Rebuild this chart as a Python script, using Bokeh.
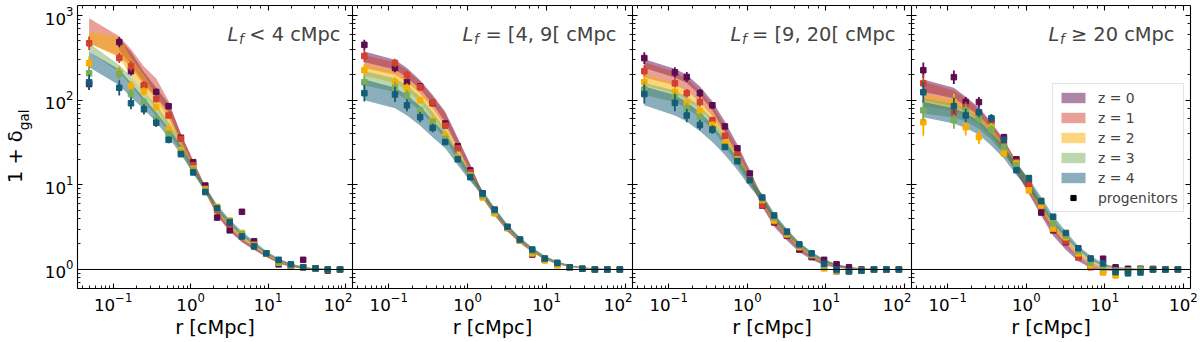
import math
from bokeh.plotting import figure
from bokeh.models import (LogAxis, Label, Legend, LegendItem, ColumnDataSource, Span,
                          Range1d, CustomJSTickFormatter, LogScale)
from bokeh.layouts import row
from bokeh.embed import file_html
from bokeh.resources import INLINE

# ---------------- data ----------------
R = [0.049, 0.12, 0.17, 0.25, 0.36, 0.52, 0.75, 1.08, 1.55, 2.2,
     3.2, 4.6, 6.6, 9.5, 13.7, 19.7, 28.4, 41, 59, 85]

Z_LABELS = ["z = 0", "z = 1", "z = 2", "z = 3", "z = 4"]
Z_COLORS = ["#5c0c4f", "#d2412f", "#f7ae00", "#79ad5d", "#155d77"]
PANEL_REL = ["<", "=", "=", "\u2265"]
PANEL_RNG = ["4", "[4, 9[", "[9, 20[", "20"]

# ---- panel 1 : L_f < 4 cMpc ----
P1_Z0_PTS = [155, 485, 220, 148, 125, 85, 36, 18.5, 9.8, 4.1, 2.9, 4.8, 2.15, 1.55, 1.15, 1.08, 1.3, 1.03, 0.97, 1.0]
P1_Z1_PTS = [470, 315, 252, 150, 103, 66, 35, 17, 9.0, 5.0, 3.4, 2.5, 1.95, 1.55, 1.2, 1.1, 1.06, 1.03, 1.0, 1.0]
P1_Z2_PTS = [273, 215, 147, 127, 83, 45, 25.6, 15.5, 8.8, 5.5, 3.8, 2.7, 1.95, 1.55, 1.2, 1.12, 1.06, 1.02, 1.0, 1.0]
P1_Z3_PTS = [208, 205, 118, 95, 60, 40, 24, 15, 8.5, 5.2, 3.7, 2.6, 1.9, 1.55, 1.22, 1.12, 1.06, 1.03, 1.0, 1.0]
P1_Z4_PTS = [163, 140, 92, 78, 54, 34, 23, 14, 8.2, 5.3, 3.6, 2.45, 1.87, 1.55, 1.3, 1.15, 1.06, 1.03, 1.0, 1.0]
P1_Z0_ERR = [0.07, 0.06, 0.05, 0.05, 0.04, 0.03, 0.02, 0.015, 0.01, 0, 0, 0, 0, 0, 0, 0, 0, 0, 0, 0]
P1_Z1_ERR = [0.08, 0.06, 0.06, 0.05, 0.04, 0.03, 0.02, 0.015, 0.01, 0, 0, 0, 0, 0, 0, 0, 0, 0, 0, 0]
P1_Z2_ERR = [0.08, 0.07, 0.06, 0.05, 0.04, 0.03, 0.02, 0.015, 0.01, 0, 0, 0, 0, 0, 0, 0, 0, 0, 0, 0]
P1_Z3_ERR = [0.08, 0.07, 0.06, 0.05, 0.045, 0.035, 0.02, 0.015, 0.01, 0, 0, 0, 0, 0, 0, 0, 0, 0, 0, 0]
P1_Z4_ERR = [0.09, 0.09, 0.07, 0.06, 0.05, 0.04, 0.025, 0.015, 0.01, 0, 0, 0, 0, 0, 0, 0, 0, 0, 0, 0]
P1_Z0_LO = [None, 380, 265, 160, 108, 72, 31, 16, 8.2, 4.3, 2.8, 2.1, 1.7, 1.4, 1.18, 1.07, 1.02, 1.0, 1.0, 1.0]
P1_Z0_HI = [None, 540, 370, 215, 140, 92, 40, 19, 9.5, 5.0, 3.2, 2.3, 1.85, 1.5, 1.25, 1.12, 1.05, 1.02, 1.01, 1.0]
P1_Z1_LO = [470, 330, 245, 150, 105, 62, 30, 15.5, 8.0, 4.4, 2.9, 2.15, 1.75, 1.42, 1.2, 1.08, 1.03, 1.01, 1.0, 1.0]
P1_Z1_HI = [930, 570, 400, 250, 180, 98, 40, 19.5, 9.6, 5.2, 3.3, 2.4, 1.9, 1.5, 1.26, 1.13, 1.06, 1.03, 1.01, 1.0]
P1_Z2_LO = [470, 320, 190, 125, 80, 47, 26, 14.5, 8.2, 4.6, 3.1, 2.25, 1.8, 1.45, 1.22, 1.1, 1.04, 1.01, 1.0, 1.0]
P1_Z2_HI = [640, 560, 320, 200, 115, 70, 34, 17.5, 9.4, 5.4, 3.5, 2.5, 1.95, 1.55, 1.3, 1.15, 1.07, 1.03, 1.01, 1.0]
P1_Z3_LO = [370, 215, 150, 95, 66, 42, 24, 14, 8.3, 4.9, 3.3, 2.4, 1.9, 1.5, 1.25, 1.1, 1.04, 1.01, 1.0, 1.0]
P1_Z3_HI = [470, 260, 190, 125, 87, 55, 32, 16.5, 9.4, 5.6, 3.7, 2.65, 2.05, 1.6, 1.32, 1.16, 1.07, 1.03, 1.01, 1.0]
P1_Z4_LO = [245, 150, 108, 78, 55, 36, 23, 13.5, 8.3, 5.0, 3.4, 2.5, 1.95, 1.52, 1.27, 1.12, 1.05, 1.01, 1.0, 1.0]
P1_Z4_HI = [370, 230, 160, 105, 72, 47, 29, 16.5, 9.6, 5.8, 3.9, 2.8, 2.15, 1.65, 1.35, 1.18, 1.08, 1.03, 1.01, 1.0]

# ---- panel 2 : L_f = [4, 9[ cMpc ----
P2_Z0_PTS = [450, 240, 163, 145, 92, 53, 28.5, 14.8, 7.9, 4.8, 3.1, 2.2, 1.5, 1.3, 1.15, 1.05, 1.02, 1.0, 1.0, 1.0]
P2_Z1_PTS = [332, 275, 198, 142, 94, 50, 27, 14, 7.7, 4.7, 3.1, 2.2, 1.55, 1.3, 1.15, 1.05, 1.02, 1.0, 1.0, 1.0]
P2_Z2_PTS = [226, 163, 140, 100, 58, 38, 21, 13, 7.1, 4.6, 3.1, 2.2, 1.55, 1.28, 1.12, 1.05, 1.02, 1.0, 1.0, 1.0]
P2_Z3_PTS = [163, 140, 115, 76, 55, 35, 20.5, 12.8, 7.5, 4.9, 3.15, 2.25, 1.65, 1.33, 1.18, 1.06, 1.02, 1.0, 1.0, 1.0]
P2_Z4_PTS = [121, 117, 87, 63, 47, 32, 20, 12.3, 7.9, 5.1, 3.2, 2.26, 1.72, 1.35, 1.2, 1.06, 1.02, 1.0, 1.0, 1.0]
P2_Z0_ERR = [0.06, 0.05, 0.05, 0.04, 0.03, 0.03, 0.02, 0.01, 0, 0, 0, 0, 0, 0, 0, 0, 0, 0, 0, 0]
P2_Z1_ERR = [0.07, 0.05, 0.05, 0.04, 0.03, 0.03, 0.02, 0.01, 0, 0, 0, 0, 0, 0, 0, 0, 0, 0, 0, 0]
P2_Z2_ERR = [0.07, 0.06, 0.05, 0.04, 0.04, 0.03, 0.02, 0.01, 0, 0, 0, 0, 0, 0, 0, 0, 0, 0, 0, 0]
P2_Z3_ERR = [0.08, 0.07, 0.06, 0.05, 0.04, 0.03, 0.02, 0.01, 0, 0, 0, 0, 0, 0, 0, 0, 0, 0, 0, 0]
P2_Z4_ERR = [0.1, 0.09, 0.07, 0.06, 0.05, 0.03, 0.02, 0.01, 0, 0, 0, 0, 0, 0, 0, 0, 0, 0, 0, 0]
P2_Z0_LO = [280, 230, 185, 135, 90, 55, 28, 14, 6.9, 4.3, 2.8, 2.05, 1.6, 1.3, 1.15, 1.07, 1.03, 1.01, 1.0, 1.0]
P2_Z0_HI = [375, 300, 240, 172, 115, 73, 36, 17.5, 8.0, 4.9, 3.1, 2.2, 1.7, 1.38, 1.2, 1.1, 1.05, 1.02, 1.01, 1.0]
P2_Z1_LO = [240, 200, 165, 120, 80, 50, 26, 13.5, 7.0, 4.4, 2.85, 2.08, 1.62, 1.32, 1.16, 1.08, 1.035, 1.01, 1.0, 1.0]
P2_Z1_HI = [340, 280, 225, 165, 110, 70, 34, 17, 8.1, 5.0, 3.2, 2.25, 1.72, 1.4, 1.21, 1.11, 1.05, 1.02, 1.01, 1.0]
P2_Z2_LO = [195, 160, 130, 95, 62, 40, 21, 12, 7.1, 4.5, 2.9, 2.12, 1.64, 1.33, 1.17, 1.08, 1.04, 1.015, 1.0, 1.0]
P2_Z2_HI = [270, 220, 180, 130, 85, 52, 27, 15, 8.2, 5.1, 3.25, 2.3, 1.75, 1.42, 1.22, 1.11, 1.055, 1.02, 1.01, 1.0]
P2_Z3_LO = [150, 125, 100, 75, 52, 35, 19, 11.5, 7.3, 4.6, 3.0, 2.15, 1.67, 1.35, 1.18, 1.09, 1.04, 1.015, 1.0, 1.0]
P2_Z3_HI = [220, 180, 150, 110, 72, 46, 25, 14.5, 8.4, 5.2, 3.35, 2.35, 1.78, 1.43, 1.23, 1.12, 1.06, 1.025, 1.01, 1.0]
P2_Z4_LO = [100, 80, 66, 50, 36.5, 27, 17, 11, 7.4, 4.7, 3.05, 2.2, 1.7, 1.38, 1.2, 1.1, 1.05, 1.02, 1.0, 1.0]
P2_Z4_HI = [175, 140, 115, 85, 58, 40, 23, 14, 8.6, 5.4, 3.4, 2.4, 1.82, 1.45, 1.25, 1.13, 1.07, 1.03, 1.01, 1.0]

# ---- panel 3 : L_f = [9, 20[ cMpc ----
P3_Z0_PTS = [314, 213, 188, 121, 87, 49, 27, 13.6, 5.7, 3.6, 2.5, 1.72, 1.4, 1.3, 1.15, 1.06, 1.0, 1.0, 1.0, 1.0]
P3_Z1_PTS = [220, 158, 121, 95, 58, 38, 22.4, 11.6, 5.8, 3.7, 2.55, 1.8, 1.45, 1.05, 0.95, 0.95, 0.98, 1.0, 1.0, 1.0]
P3_Z2_PTS = [163, 125, 92, 74, 51, 31, 20, 11.3, 6.6, 3.8, 2.6, 1.85, 1.5, 1.03, 0.96, 0.95, 0.98, 1.0, 1.0, 1.0]
P3_Z3_PTS = [134, 108, 80, 63, 44, 28, 19.5, 11.3, 6.9, 4.1, 2.7, 1.9, 1.5, 1.1, 0.97, 0.95, 0.97, 1.0, 1.0, 1.0]
P3_Z4_PTS = [118, 93, 66, 51, 45, 28, 19, 11.3, 7.1, 4.35, 2.8, 1.98, 1.55, 1.17, 1.0, 0.95, 0.97, 1.0, 1.0, 1.0]
P3_Z0_ERR = [0.07, 0.06, 0.06, 0.05, 0.04, 0.03, 0.02, 0.015, 0, 0, 0, 0, 0, 0, 0, 0, 0, 0, 0, 0]
P3_Z1_ERR = [0.07, 0.06, 0.05, 0.05, 0.04, 0.03, 0.02, 0.01, 0, 0, 0, 0, 0, 0, 0, 0, 0, 0, 0, 0]
P3_Z2_ERR = [0.08, 0.06, 0.05, 0.05, 0.04, 0.03, 0.02, 0.01, 0, 0, 0, 0, 0, 0, 0, 0, 0, 0, 0, 0]
P3_Z3_ERR = [0.09, 0.07, 0.06, 0.05, 0.04, 0.03, 0.02, 0.01, 0, 0, 0, 0, 0, 0, 0, 0, 0, 0, 0, 0]
P3_Z4_ERR = [0.11, 0.1, 0.08, 0.06, 0.05, 0.03, 0.02, 0.01, 0, 0, 0, 0, 0, 0, 0, 0, 0, 0, 0, 0]
P3_Z0_LO = [240, 185, 160, 115, 75, 42, 22, 11, 5.5, 3.2, 2.2, 1.6, 1.3, 1.12, 1.05, 1.02, 1.0, 1.0, 1.0, 1.0]
P3_Z0_HI = [305, 235, 200, 145, 97, 56, 30, 15, 7.2, 4.0, 2.6, 1.85, 1.45, 1.22, 1.1, 1.05, 1.02, 1.01, 1.0, 1.0]
P3_Z1_LO = [185, 150, 130, 95, 65, 38, 21, 11, 5.8, 3.4, 2.35, 1.7, 1.35, 1.15, 1.06, 1.02, 1.01, 1.0, 1.0, 1.0]
P3_Z1_HI = [280, 215, 180, 130, 88, 50, 27, 14, 7.3, 4.1, 2.7, 1.9, 1.5, 1.25, 1.12, 1.05, 1.02, 1.01, 1.0, 1.0]
P3_Z2_LO = [150, 120, 100, 78, 55, 33, 19, 10.5, 6.0, 3.6, 2.45, 1.78, 1.4, 1.18, 1.08, 1.03, 1.01, 1.0, 1.0, 1.0]
P3_Z2_HI = [200, 160, 135, 100, 70, 42, 24, 13, 7.4, 4.3, 2.8, 1.98, 1.53, 1.27, 1.13, 1.06, 1.03, 1.01, 1.0, 1.0]
P3_Z3_LO = [115, 95, 80, 62, 45, 29, 17, 10, 6.2, 3.8, 2.55, 1.85, 1.45, 1.2, 1.09, 1.04, 1.015, 1.0, 1.0, 1.0]
P3_Z3_HI = [160, 130, 110, 85, 60, 37, 22, 12.5, 7.6, 4.5, 2.9, 2.05, 1.58, 1.3, 1.15, 1.07, 1.03, 1.01, 1.0, 1.0]
P3_Z4_LO = [87, 66, 56, 43, 32, 22.5, 15, 9.4, 6.3, 3.9, 2.6, 1.9, 1.5, 1.23, 1.1, 1.04, 1.02, 1.0, 1.0, 1.0]
P3_Z4_HI = [145, 115, 95, 72, 52, 33, 20.5, 12, 7.8, 4.6, 3.0, 2.1, 1.62, 1.32, 1.16, 1.08, 1.03, 1.01, 1.0, 1.0]

# ---- panel 4 : L_f >= 20 cMpc ----
P4_Z0_PTS = [226, 187, 95, 95, 58, 36.6, 20, 10.4, 4.7, 2.9, 2.1, 1.4, 1.1, 1.34, 1.06, 1.02, 1.02, 1.0, 1.0, 1.0]
P4_Z1_PTS = [158, 71, 83, 70, 53, 30, 18.6, 9.9, 5.7, 3.0, 2.15, 1.39, 1.06, 0.95, 0.93, 0.95, 0.97, 1.02, 1.0, 1.0]
P4_Z2_PTS = [55, 95, 48, 36.6, 48, 23.5, 17.9, 8.6, 5.7, 3.05, 2.4, 1.55, 1.12, 0.92, 0.85, 0.95, 0.97, 1.02, 1.0, 1.0]
P4_Z3_PTS = [76, 58, 76, 61, 45, 28, 17, 12, 6.5, 3.5, 2.5, 1.65, 1.2, 1.05, 0.97, 0.97, 1.0, 1.0, 1.0, 1.0]
P4_Z4_PTS = [124, 85, 66, 72, 61, 34, 14.9, 12, 6.4, 4.2, 2.7, 1.78, 1.35, 1.18, 0.93, 0.9, 0.92, 1.0, 1.0, 1.0]
P4_Z0_ERR = [0.09, 0.08, 0.06, 0.06, 0.04, 0.03, 0.02, 0.015, 0, 0, 0, 0, 0, 0, 0, 0, 0, 0, 0, 0]
P4_Z1_ERR = [0.1, 0.08, 0.06, 0.05, 0.04, 0.03, 0.02, 0.015, 0, 0, 0, 0, 0, 0, 0, 0, 0, 0, 0, 0]
P4_Z2_ERR = [0.16, 0.1, 0.1, 0.08, 0.05, 0.04, 0.025, 0.015, 0, 0, 0, 0, 0, 0, 0, 0, 0, 0, 0, 0]
P4_Z3_ERR = [0.12, 0.1, 0.07, 0.06, 0.05, 0.035, 0.02, 0.015, 0, 0, 0, 0, 0, 0, 0, 0, 0, 0, 0, 0]
P4_Z4_ERR = [0.12, 0.1, 0.08, 0.06, 0.05, 0.035, 0.02, 0.015, 0, 0, 0, 0, 0, 0, 0, 0, 0, 0, 0, 0]
P4_Z0_LO = [125, 105, 85, 65, 44, 26, 14, 7.8, 4.3, 2.5, 1.7, 1.25, 1.04, 0.97, 0.96, 0.97, 0.98, 0.99, 1.0, 1.0]
P4_Z0_HI = [176, 140, 110, 82, 55, 34, 19, 10.5, 5.5, 3.1, 2.0, 1.42, 1.12, 1.02, 1.0, 1.0, 1.0, 1.0, 1.0, 1.0]
P4_Z1_LO = [100, 85, 75, 58, 40, 25, 14, 8.2, 4.7, 2.8, 1.9, 1.4, 1.12, 1.02, 0.99, 0.99, 1.0, 1.0, 1.0, 1.0]
P4_Z1_HI = [165, 130, 105, 78, 53, 33, 19, 10.8, 5.9, 3.4, 2.2, 1.55, 1.2, 1.08, 1.02, 1.01, 1.0, 1.0, 1.0, 1.0]
P4_Z2_LO = [85, 75, 65, 52, 37, 24, 14.5, 8.6, 5.0, 3.0, 2.05, 1.5, 1.18, 1.05, 1.01, 1.0, 1.0, 1.0, 1.0, 1.0]
P4_Z2_HI = [120, 100, 85, 66, 47, 31, 18.5, 11, 6.1, 3.6, 2.35, 1.65, 1.27, 1.1, 1.04, 1.02, 1.01, 1.0, 1.0, 1.0]
P4_Z3_LO = [70, 62, 56, 46, 34, 23, 14.5, 9, 5.4, 3.3, 2.2, 1.6, 1.25, 1.08, 1.03, 1.01, 1.0, 1.0, 1.0, 1.0]
P4_Z3_HI = [105, 90, 78, 62, 44, 30, 18.5, 11.5, 6.5, 3.9, 2.55, 1.78, 1.35, 1.14, 1.06, 1.03, 1.01, 1.0, 1.0, 1.0]
P4_Z4_LO = [63, 53, 47, 39, 29, 20.5, 13, 8.8, 5.6, 3.5, 2.35, 1.7, 1.3, 1.1, 1.04, 1.02, 1.01, 1.0, 1.0, 1.0]
P4_Z4_HI = [95, 80, 70, 57, 41, 28, 18, 11.8, 7.2, 4.3, 2.8, 1.9, 1.45, 1.18, 1.08, 1.04, 1.02, 1.01, 1.0, 1.0]

PANELS = [
    [(P1_Z0_PTS, P1_Z0_ERR, P1_Z0_LO, P1_Z0_HI), (P1_Z1_PTS, P1_Z1_ERR, P1_Z1_LO, P1_Z1_HI),
     (P1_Z2_PTS, P1_Z2_ERR, P1_Z2_LO, P1_Z2_HI), (P1_Z3_PTS, P1_Z3_ERR, P1_Z3_LO, P1_Z3_HI),
     (P1_Z4_PTS, P1_Z4_ERR, P1_Z4_LO, P1_Z4_HI)],
    [(P2_Z0_PTS, P2_Z0_ERR, P2_Z0_LO, P2_Z0_HI), (P2_Z1_PTS, P2_Z1_ERR, P2_Z1_LO, P2_Z1_HI),
     (P2_Z2_PTS, P2_Z2_ERR, P2_Z2_LO, P2_Z2_HI), (P2_Z3_PTS, P2_Z3_ERR, P2_Z3_LO, P2_Z3_HI),
     (P2_Z4_PTS, P2_Z4_ERR, P2_Z4_LO, P2_Z4_HI)],
    [(P3_Z0_PTS, P3_Z0_ERR, P3_Z0_LO, P3_Z0_HI), (P3_Z1_PTS, P3_Z1_ERR, P3_Z1_LO, P3_Z1_HI),
     (P3_Z2_PTS, P3_Z2_ERR, P3_Z2_LO, P3_Z2_HI), (P3_Z3_PTS, P3_Z3_ERR, P3_Z3_LO, P3_Z3_HI),
     (P3_Z4_PTS, P3_Z4_ERR, P3_Z4_LO, P3_Z4_HI)],
    [(P4_Z0_PTS, P4_Z0_ERR, P4_Z0_LO, P4_Z0_HI), (P4_Z1_PTS, P4_Z1_ERR, P4_Z1_LO, P4_Z1_HI),
     (P4_Z2_PTS, P4_Z2_ERR, P4_Z2_LO, P4_Z2_HI), (P4_Z3_PTS, P4_Z3_ERR, P4_Z3_LO, P4_Z3_HI),
     (P4_Z4_PTS, P4_Z4_ERR, P4_Z4_LO, P4_Z4_HI)],
]

# ---------------- styling ----------------
FONT = "DejaVu Sans"
TICK_FS = "16.7px"
LABEL_FS = "19.4px"
SUB_FS = "13.6px"
FIG_W = [352, 280, 279, 287]
BORDER_L = [73, 0, 0, 0]
BORDER_R = [0, 0, 0, 8]
FIG_H = 342
BORDER_T = 5
BORDER_B = 54
FRAME_H = FIG_H - BORDER_T - BORDER_B
FRAME_W = [w - l - r for w, l, r in zip(FIG_W, BORDER_L, BORDER_R)]
TITLE_X = [150, 110, 98, 137]


def style_axis(ax, show_labels):
    ax.axis_line_color = "black"
    ax.axis_line_width = 1.1
    ax.major_tick_line_color = "black"
    ax.minor_tick_line_color = "black"
    ax.major_tick_line_width = 1.1
    ax.minor_tick_line_width = 0.9
    ax.major_tick_in = 5
    ax.major_tick_out = 0
    ax.minor_tick_in = 3
    ax.minor_tick_out = 0
    ax.major_label_text_font = FONT
    ax.major_label_text_color = "black"
    if show_labels:
        ax.major_label_text_font_size = TICK_FS
        ax.major_label_standoff = 4
    else:
        ax.formatter = CustomJSTickFormatter(code="return ''")
        ax.major_label_text_font_size = "0px"
        ax.major_label_standoff = 0


figs = []
for i, series in enumerate(PANELS):
    p = figure(x_axis_type="log", y_axis_type="log",
               x_range=Range1d(10 ** -1.46, 10 ** 2.09),
               y_range=Range1d(0.596, 1313),
               width=FIG_W[i], height=FIG_H,
               min_border_left=BORDER_L[i], min_border_right=BORDER_R[i],
               min_border_top=BORDER_T, min_border_bottom=BORDER_B,
               output_backend="svg", toolbar_location=None)
    p.grid.visible = False
    p.outline_line_color = None
    p.background_fill_color = "white"
    p.border_fill_color = "white"

    xa = p.xaxis[0]
    style_axis(xa, True)
    xa.axis_label = "r [cMpc]"
    xa.axis_label_text_font = FONT
    xa.axis_label_text_font_size = LABEL_FS
    xa.axis_label_text_font_style = "normal"
    xa.axis_label_text_color = "black"
    xa.axis_label_standoff = 2

    ya = p.yaxis[0]
    style_axis(ya, i == 0)
    if i == 0:
        # inner axis label: the subscript "gal", pushed up by leading en-spaces
        ya.axis_label = "\u2002" * 8 + "gal"
        ya.axis_label_text_font = FONT
        ya.axis_label_text_font_size = SUB_FS
        ya.axis_label_text_font_style = "normal"
        ya.axis_label_text_color = "black"
        ya.axis_label_standoff = 10
        # outer axis (no ticks) carrying "1 + δ", pulled in over the subscript
        outer = LogAxis()
        style_axis(outer, False)
        outer.axis_line_color = None
        outer.major_tick_in = 0
        outer.minor_tick_in = 0
        outer.axis_label = "1 + \u03b4" + "\u2002\u2002"
        outer.axis_label_text_font = FONT
        outer.axis_label_text_font_size = LABEL_FS
        outer.axis_label_text_font_style = "normal"
        outer.axis_label_text_color = "black"
        outer.axis_label_standoff = -14
        p.add_layout(outer, "left")

    top = LogAxis()
    style_axis(top, False)
    p.add_layout(top, "above")
    right = LogAxis()
    style_axis(right, False)
    p.add_layout(right, "right")

    # model bands
    band_renderers = []
    for k, (pts, err, lo, hi) in enumerate(series):
        xs = [x for x, a in zip(R, lo) if a is not None]
        y1 = [a for a in lo if a is not None]
        y2 = [b for b in hi if b is not None]
        rb = p.varea(x=xs, y1=y1, y2=y2, fill_color=Z_COLORS[k], fill_alpha=0.5)
        band_renderers.append(rb)

    p.add_layout(Span(location=1.0, dimension="width", line_color="black", line_width=1.0))

    # progenitor points with error bars
    for k, (pts, err, lo, hi) in enumerate(series):
        src = ColumnDataSource(dict(
            x=R, y=pts,
            ylo=[v * 10 ** (-e) for v, e in zip(pts, err)],
            yhi=[v * 10 ** e for v, e in zip(pts, err)]))
        p.segment(x0="x", y0="ylo", x1="x", y1="yhi", source=src,
                  line_color=Z_COLORS[k], line_width=1.8)
        p.scatter(x="x", y="y", source=src, marker="square", size=5.5,
                  fill_color=Z_COLORS[k], line_color=Z_COLORS[k])

    # panel annotation  L_f ... (screen units, measured from the frame's bottom-left)
    tx = TITLE_X[i]
    base = FRAME_H - 29
    p.add_layout(Label(x=tx, y=base, x_units="screen", y_units="screen", text="L",
                       text_font=FONT, text_font_style="italic", text_font_size=LABEL_FS,
                       text_baseline="alphabetic", text_align="left"))
    p.add_layout(Label(x=tx + 11.5, y=base - 4, x_units="screen", y_units="screen", text="f",
                       text_font=FONT, text_font_style="italic", text_font_size=SUB_FS,
                       text_baseline="alphabetic", text_align="left"))
    p.add_layout(Label(x=FRAME_W[i] - 16, y=base, x_units="screen", y_units="screen",
                       text=f"{PANEL_REL[i]} {PANEL_RNG[i]} cMpc",
                       text_font=FONT, text_font_size=LABEL_FS,
                       text_baseline="alphabetic", text_align="right"))

    if i == 3:
        # legend proxy for "progenitors": same points, mapped on a range far outside the frame
        p.extra_x_ranges = {"proxy": Range1d(1e6, 1e7)}
        p.extra_x_scales = {"proxy": LogScale()}
        proxy_src = ColumnDataSource(dict(x=R, y=series[0][0]))
        dash = p.scatter(x="x", y="y", source=proxy_src, x_range_name="proxy", marker="dash",
                         angle=math.pi / 2, size=12, line_color="black", line_width=2)
        sq = p.scatter(x="x", y="y", source=proxy_src, x_range_name="proxy", marker="square",
                       size=5, fill_color="black", line_color="black")
        items = [LegendItem(label=Z_LABELS[k], renderers=[band_renderers[k]]) for k in range(5)]
        items.append(LegendItem(label="progenitors", renderers=[dash, sq]))
        legend = Legend(items=items, location=(141, 76),
                        label_text_font=FONT, label_text_font_size="13.9px",
                        glyph_width=30, glyph_height=13, label_height=17,
                        label_standoff=10, spacing=3, padding=5, margin=0,
                        border_line_color="#cccccc", border_line_width=1,
                        background_fill_color="white", background_fill_alpha=0.8)
        p.add_layout(legend)

    figs.append(p)

layout = row(*figs, spacing=0)
open("out.html", "w").write(file_html(layout, INLINE))
